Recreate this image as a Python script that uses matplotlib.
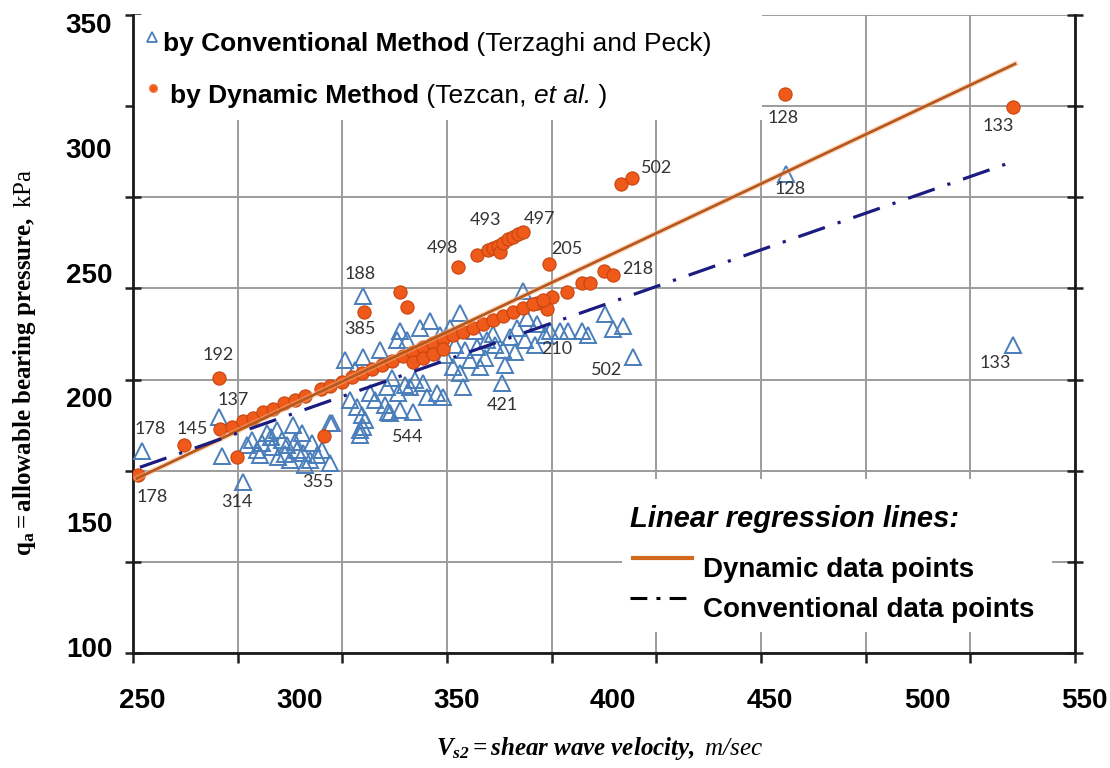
import numpy as np
import matplotlib
matplotlib.use('Agg')
import matplotlib.pyplot as plt
from matplotlib.patches import Rectangle

# dynamic method points (Vs2 m/s, qa kPa)
dyn_vs = [248.7, 263.3, 274.5, 280.2, 307.9, 320.7, 332.1, 334.4, 350.6,
          356.7, 360.2, 361.8, 363.3, 364.0, 364.9, 366.5, 368.1, 369.7, 371.3,
          379.6, 402.5, 406.0, 390.1, 392.6, 397.1, 400.0, 385.3, 380.5, 378.9, 375.8,
          454.7, 527.4,
          274.8, 278.6, 282.1, 285.3, 288.5, 291.7, 295.2, 298.7, 301.9, 307.0,
          309.8, 313.7, 316.8, 320.0, 323.2, 326.4, 329.6, 333.1, 336.3, 339.5,
          342.6, 345.8, 348.9, 352.2, 355.4, 358.6, 361.8, 364.9, 368.1, 371.3,
          374.5, 377.7,
          336.3, 339.5, 342.6, 345.8]
dyn_qa = [168.8, 180.8, 207.6, 176.0, 184.4, 234.4, 242.4, 236.4, 252.4,
          257.2, 259.2, 260.0, 260.8, 258.4, 262.0, 263.6, 264.4, 265.6, 266.4,
          253.6, 285.6, 288.0, 246.0, 246.0, 250.8, 249.2, 242.4, 240.4, 235.6, 238.0,
          321.6, 316.4,
          187.2, 188.0, 190.4, 191.6, 194.0, 195.2, 197.6, 198.8, 200.4, 203.2,
          204.4, 206.0, 208.0, 209.6, 211.2, 212.8, 214.4, 216.4, 218.0, 220.0,
          221.6, 223.2, 224.8, 226.4, 228.0, 229.6, 231.2, 232.8, 234.4, 236.0,
          237.6, 239.2,
          214.0, 215.6, 217.2, 219.2]

# conventional method points
conv_vs = [250.0, 274.5, 275.4, 282.1, 283.4, 285.0, 286.6, 288.2, 289.8, 291.4,
           293.0, 293.3, 294.6, 296.1, 298.1, 298.7, 299.3, 300.9, 301.2, 301.9,
           304.1, 305.7, 307.3, 309.8, 309.8, 287.5, 297.1, 303.5, 291.0, 295.5,
           320.3, 310.5, 319.4, 320.3, 316.2, 318.4, 320.0, 322.6, 325.8, 328.0,
           328.3, 331.2, 331.5, 334.4, 335.3, 336.3, 338.5, 339.5, 340.7, 343.9,
           345.8, 348.1, 349.0, 351.2, 352.2, 354.4, 356.7, 357.6, 359.8, 361.8,
           364.6, 364.9, 367.2, 369.4, 371.3, 372.6, 375.8, 379.9,
           383.1, 385.6, 390.1, 392.0, 397.4, 400.0, 403.1, 406.3,
           321.0, 324.2, 327.4, 329.6, 332.1, 333.7, 336.9, 346.5, 349.6, 352.8,
           356.0, 359.2, 362.4, 365.6, 368.8, 371.9, 375.1, 378.3, 314.6, 317.8,
           332.1, 341.7, 344.9, 351.2, 328.9, 319.4, 320.3,
           455.1, 527.4]
conv_qa = [178.4, 192.0, 176.4, 166.0, 180.8, 182.8, 178.8, 181.6, 185.6, 180.0,
           186.8, 176.0, 182.8, 180.8, 188.8, 182.0, 178.8, 185.6, 177.6, 172.8,
           181.6, 176.8, 178.8, 189.6, 173.6, 176.8, 174.8, 174.8, 184.0, 177.2,
           240.8, 189.6, 186.8, 216.0, 198.8, 196.0, 192.8, 201.6, 218.8, 204.0,
           194.0, 222.8, 201.6, 222.8, 204.0, 194.0, 228.0, 205.6, 200.0, 201.6,
           200.0, 228.0, 212.0, 209.6, 204.0, 214.8, 220.0, 212.0, 222.8, 225.6,
           205.6, 218.8, 224.0, 228.0, 242.8, 232.0, 229.6, 226.8,
           226.8, 226.8, 226.8, 224.8, 233.6, 227.6, 228.8, 216.0,
           190.8, 198.8, 196.8, 207.6, 194.8, 204.8, 206.8, 216.8, 220.8, 218.8,
           226.8, 215.6, 220.8, 212.8, 218.0, 222.8, 220.8, 224.8, 214.8, 210.8,
           226.8, 230.8, 224.8, 234.0, 193.6, 184.8, 188.0,
           289.6, 220.8]

# regression lines (end points)
dyn_fit_vs = [248.4, 528.0]
dyn_fit_qa = [167.6, 333.6]
conv_fit_vs = [249.3, 525.4]
conv_fit_qa = [172.0, 293.6]

# sample id labels
dyn_tag_text = ['178', '145', '192', '137', '385', '498', '493', '497', '205', '502', '218', '128', '133']
dyn_tag_vs = [248.7, 263.3, 274.5, 274.8, 320.7, 350.6, 360.2, 371.3, 379.6, 406.0, 400.0, 454.7, 527.4]
dyn_tag_qa = [168.8, 180.8, 207.6, 187.2, 234.4, 252.4, 259.2, 266.4, 253.6, 288.0, 249.2, 321.6, 316.4]
dyn_tag_off = [(14, -22), (8, 16), (-1, 23), (13, 29), (-4, -17), (-16, 19), (-3, 30),
               (17, 13), (18, 15), (25, 10), (25, 6), (-2, -24), (-15, -19)]

conv_tag_text = ['178', '314', '355', '188', '544', '421', '210', '502', '128', '133']
conv_tag_vs = [250.0, 282.1, 309.8, 320.3, 336.3, 364.6, 379.9, 406.3, 455.1, 527.4]
conv_tag_qa = [178.4, 166.0, 173.6, 240.8, 194.0, 205.6, 226.8, 216.0, 289.6, 220.8]
conv_tag_off = [(8, 22), (-6, -20), (-12, -19), (-3, 22), (-5, -25), (0, -22),
                (7, -18), (-26, -13), (4, -15), (-18, -18)]

x_labels = [250, 300, 350, 400, 450, 500, 550]
y_labels = [100, 150, 200, 250, 300, 350]

plt.rcParams['mathtext.fontset'] = 'custom'
plt.rcParams['mathtext.rm'] = 'Liberation Serif'
plt.rcParams['mathtext.it'] = 'Liberation Serif:italic'
plt.rcParams['mathtext.bf'] = 'Liberation Serif:bold'
plt.rcParams['mathtext.bfit'] = 'Liberation Serif:italic:bold'

fig = plt.figure(figsize=(11.1, 7.68), dpi=100)
ax = fig.add_axes([133/1110, 1-653/768, 942/1110, 638/768])

x0, x1 = 247.1, 547.1
y0, y1 = 97.6, 353.2

# excel style grid (does not line up with the label ticks)
ax.set_xticks(np.linspace(x0, x1, 10))
ax.set_yticks(np.linspace(y0, y1, 8))
ax.set_xticklabels([])
ax.set_yticklabels([])
ax.set_yticks(y_labels, minor=True)
ax.set_yticklabels([str(v) for v in y_labels], minor=True)
ax.set_xlim(x0, x1)
ax.set_ylim(y0, y1)
ax.set_axisbelow(True)
ax.grid(which='major', color='#9c9c9c', lw=1.4)

ax.tick_params(axis='y', which='major', direction='inout', length=11, width=1.8,
               left=True, right=True, color='#202020')
ax.tick_params(axis='x', which='major', direction='out', length=7, width=1.8, color='#202020')
ax.tick_params(which='minor', length=0)
ax.tick_params(axis='y', which='minor', pad=15)
for lab in ax.get_yticklabels(minor=True):
    lab.set_fontsize(20)
    lab.set_fontweight('bold')
    lab.set_family('Liberation Sans')

# x labels sit past the right edge (550), so they are placed as texts
for v in x_labels:
    ax.text(v, -0.055, str(v), transform=ax.get_xaxis_transform(), ha='center',
            va='top', fontsize=20, fontweight='bold', family='Liberation Sans')

for s in ['left', 'right', 'bottom']:
    ax.spines[s].set_linewidth(2.0)
    ax.spines[s].set_color('#1a1a1a')
ax.spines['top'].set_visible(False)

# white boxes behind the legends
ax.add_patch(Rectangle((0, 0.835), 0.668, 0.17, transform=ax.transAxes,
                       facecolor='white', edgecolor='none', zorder=1))
ax.add_patch(Rectangle((0.519, 0.033), 0.457, 0.24, transform=ax.transAxes,
                       facecolor='white', edgecolor='none', zorder=1))

ax.plot(conv_vs, conv_qa, ls='none', marker='^', ms=11, mfc='none',
        mec='#4a7ebb', mew=1.4, zorder=3)
ax.plot(dyn_vs, dyn_qa, ls='none', marker='o', ms=9.5, mfc='#ef5a1a',
        mec='#c8440f', mew=0.8, zorder=4)

ax.plot(dyn_fit_vs, dyn_fit_qa, color='#f7b98a', lw=4.0, alpha=0.5, zorder=5)
ax.plot(dyn_fit_vs, dyn_fit_qa, color='#b9581c', lw=2.0, zorder=5)
ax.plot(conv_fit_vs, conv_fit_qa, color='#1c1c80', lw=2.3,
        ls=(0, (8.8, 4.2, 1, 4.2)), zorder=5)

for t, xv, yv, off in zip(dyn_tag_text, dyn_tag_vs, dyn_tag_qa, dyn_tag_off):
    ax.annotate(t, (xv, yv), xytext=off, textcoords='offset pixels', ha='center',
                va='center', fontsize=13, family='Lato', color='#333333', zorder=6)
for t, xv, yv, off in zip(conv_tag_text, conv_tag_vs, conv_tag_qa, conv_tag_off):
    ax.annotate(t, (xv, yv), xytext=off, textcoords='offset pixels', ha='center',
                va='center', fontsize=13, family='Lato', color='#333333', zorder=6)

# top-left legend
ax.plot([0.020], [0.966], transform=ax.transAxes, marker='^', ms=7, mfc='none',
        mec='#4a7ebb', mew=1.3, clip_on=False, zorder=6)
ax.plot([0.021], [0.886], transform=ax.transAxes, marker='o', ms=5.5, mfc='#ef5a1a',
        mec='#ef7a3a', clip_on=False, zorder=6)
lf = dict(fontsize=19, family='Liberation Sans', color='black')
t1 = ax.text(0.0318, 0.9436, 'by Conventional Method', transform=ax.transAxes,
             fontweight='bold', va='baseline', zorder=6, **lf)
ax.annotate(' (Terzaghi and Peck)', xy=(1, 0), xycoords=t1, va='bottom', zorder=6, **lf)
t2 = ax.text(0.039, 0.862, 'by Dynamic Method', transform=ax.transAxes,
             fontweight='bold', va='baseline', zorder=6, **lf)
t3 = ax.annotate(' (Tezcan, ', xy=(1, 0), xycoords=t2, va='bottom', zorder=6, **lf)
t4 = ax.annotate('et al.', xy=(1, 0), xycoords=t3, va='bottom', fontstyle='italic', zorder=6, **lf)
ax.annotate(' )', xy=(1, 0), xycoords=t4, va='bottom', zorder=6, **lf)

# bottom-right legend
ax.text(0.5276, 0.1975, 'Linear regression lines:', transform=ax.transAxes,
        fontsize=21, fontweight='bold', fontstyle='italic', family='Liberation Sans',
        va='baseline', zorder=6)
ax.plot([0.531, 0.593], [0.149, 0.149], transform=ax.transAxes, color='#d2691e',
        lw=3, zorder=6)
ax.text(0.605, 0.119, 'Dynamic data points', transform=ax.transAxes, fontsize=20,
        fontweight='bold', family='Liberation Sans', va='baseline', zorder=6)
ax.plot([0.5276, 0.5966], [0.0862, 0.0862], transform=ax.transAxes, color='black',
        lw=2.2, ls=(0, (5.5, 3, 1.3, 3)), zorder=6)
ax.text(0.605, 0.0564, 'Conventional data points', transform=ax.transAxes, fontsize=20,
        fontweight='bold', family='Liberation Sans', va='baseline', zorder=6)

# axis titles
fig.text(25/1110, 1-362/768, r'$\mathbf{q_a = allowable\ bearing\ pressure,}$ kPa',
         rotation=90, ha='center', va='center', fontsize=18, family='Liberation Serif')
fig.text(600/1110, 1-748/768, r'$\mathbfit{V_{s2} = shear\ wave\ velocity,}$ m/sec',
         ha='center', va='center', fontsize=18, fontstyle='italic', family='Liberation Serif')

fig.savefig('out.png', dpi=100, facecolor='white')
